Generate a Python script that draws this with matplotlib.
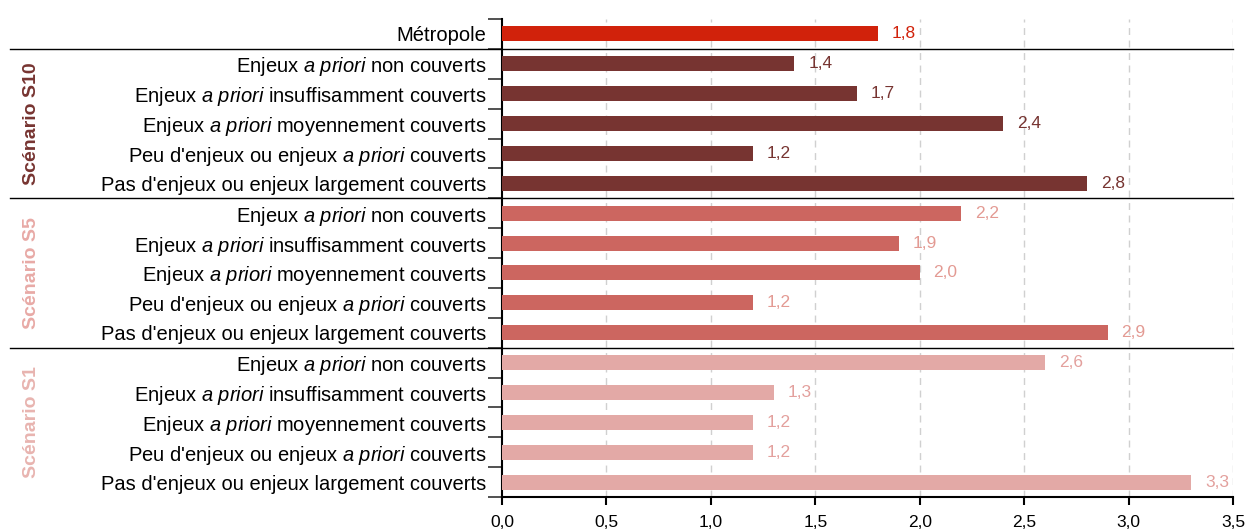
import matplotlib
matplotlib.use('Agg')
import matplotlib.pyplot as plt
import matplotlib.transforms as mtransforms

plt.rcParams['font.family'] = ['Liberation Sans', 'DejaVu Sans']
plt.rcParams['mathtext.fontset'] = 'custom'
plt.rcParams['mathtext.rm'] = 'Liberation Sans'
plt.rcParams['mathtext.it'] = 'Liberation Sans:italic'

# data
categories = ["Enjeux $\\mathit{a\\ priori}$ non couverts",
              "Enjeux $\\mathit{a\\ priori}$ insuffisamment couverts",
              "Enjeux $\\mathit{a\\ priori}$ moyennement couverts",
              "Peu d'enjeux ou enjeux $\\mathit{a\\ priori}$ couverts",
              "Pas d'enjeux ou enjeux largement couverts"]
metropole = 1.8
s10 = [1.4, 1.7, 2.4, 1.2, 2.8]
s5 = [2.2, 1.9, 2.0, 1.2, 2.9]
s1 = [2.6, 1.3, 1.2, 1.2, 3.3]
groups = ['Scénario S10', 'Scénario S5', 'Scénario S1']
x_ticks = [0, 0.5, 1.0, 1.5, 2.0, 2.5, 3.0, 3.5]

bar_colors = ['#773431', '#cc6660', '#e3a9a6']
lab_colors = ['#773431', '#e39a93', '#e3a09d']
grp_colors = ['#773431', '#e8aaa6', '#e8b4b0']
metro_color = '#d1220b'

labels = ['Métropole'] + categories * 3
values = [metropole] + s10 + s5 + s1
colors = [metro_color] + [bar_colors[0]] * 5 + [bar_colors[1]] * 5 + [bar_colors[2]] * 5
tcolors = [metro_color] + [lab_colors[0]] * 5 + [lab_colors[1]] * 5 + [lab_colors[2]] * 5

fig = plt.figure(figsize=(12.47, 5.32), dpi=100)
ax = fig.add_axes([502 / 1247, 1 - 497 / 532, 731 / 1247, 478 / 532])

ypos = list(range(len(values)))
ax.barh(ypos, values, height=0.5, color=colors, zorder=3)
for y, v, c in zip(ypos, values, tcolors):
    ax.annotate(f'{v:.1f}'.replace('.', ','), (v, y), xytext=(10, 0),
                textcoords='offset points', ha='left', va='center',
                color=c, fontsize=12.5, zorder=4)

ax.set_ylim(len(values) - 0.5, -0.5)
ax.set_xlim(0, 3.5)
ax.set_xticks(x_ticks)
ax.set_xticklabels([f'{t:.1f}'.replace('.', ',') for t in x_ticks], fontsize=12.5)
for t in x_ticks[1:]:
    ax.axvline(t, color='#d0d0d0', linestyle=(0, (5, 4)), linewidth=1, zorder=1)

ax.set_yticks(ypos)
ax.set_yticklabels(labels, fontsize=14.5)
ax.tick_params(axis='y', which='major', length=0, pad=11)
ax.set_yticks([i - 0.5 for i in range(len(values) + 1)], minor=True)
ax.tick_params(axis='y', which='minor', length=10, width=1.2, color='#333333')
ax.tick_params(axis='x', length=6, width=1.5, pad=7)

for s in ['top', 'right']:
    ax.spines[s].set_visible(False)
ax.spines['left'].set_linewidth(1.5)
ax.spines['bottom'].set_linewidth(1.5)

# separators between groups
trans = mtransforms.blended_transform_factory(ax.transAxes, ax.transData)
for yb in [0.5, 5.5, 10.5]:
    ax.plot([(10 - 502) / 731, 1.0], [yb, yb], transform=trans, color='black',
            linewidth=1, clip_on=False, zorder=5)

# group titles
for i, (g, c) in enumerate(zip(groups, grp_colors)):
    yc = 3 + i * 5
    ax.text((31 - 502) / 731, yc, g, transform=trans, rotation=90, ha='center',
            va='center', fontsize=14, fontweight='bold', color=c)

fig.savefig('out.png', dpi=100)
